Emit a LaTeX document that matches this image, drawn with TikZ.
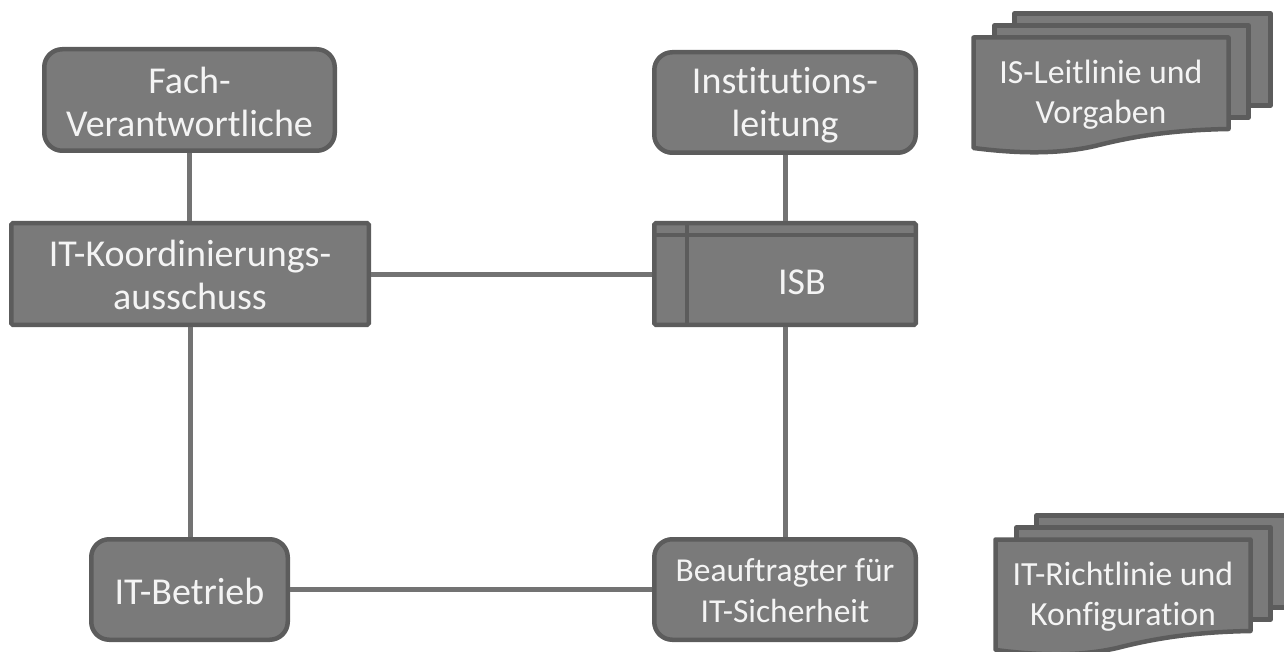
\documentclass[tikz,border=0pt]{standalone}
\usepackage{fontspec}
\setmainfont[RawFeature=-liga]{Carlito}
\definecolor{boxfill}{HTML}{7A7A7A}
\definecolor{boxline}{HTML}{5C5C5C}
\definecolor{linkline}{HTML}{737373}
\definecolor{labeltext}{HTML}{F4F4F4}
\tikzset{
  boxbase/.style={draw=boxline,fill=boxfill,line width=4.5pt,inner sep=0pt},
  roundbox/.style={boxbase,rounded corners=18pt},
  squarebox/.style={boxbase,rounded corners=1.5pt},
  boxlabel/.style={text=labeltext,align=center,inner sep=0pt,font=\fontsize{38}{43}\selectfont},
  link/.style={draw=linkline,line width=5pt},
  docsheet/.style={draw=boxline,fill=boxfill,line width=4.5pt,line join=round},
  doclabel/.style={text=labeltext,align=center,inner sep=0pt,font=\fontsize{33.8}{40}\selectfont},
  smalllabel/.style={text=labeltext,align=center,inner sep=0pt,font=\fontsize{33.5}{41}\selectfont}
}
\begin{document}
\begin{tikzpicture}[x=1pt,y=-1pt]
\useasboundingbox (0,0) rectangle (1284,652);
\node[roundbox,minimum width=290.5pt,minimum height=101.5pt] (fach) at (189.5,100) {};
\node[squarebox,minimum width=357.5pt,minimum height=101.5pt] (koord) at (190,274) {};
\node[roundbox,minimum width=261.5pt,minimum height=100.5pt] (inst) at (785,102.5) {};
\node[squarebox,minimum width=261.5pt,minimum height=101.5pt] (isb) at (785,274) {};
\node[roundbox,minimum width=196.5pt,minimum height=100.5pt] (betrieb) at (189.5,589.5) {};
\node[roundbox,minimum width=261.5pt,minimum height=100.5pt] (beauf) at (785,589.5) {};
\node[boxlabel] (fachlabel) at (189.5,101.5) {Fach-\\Verantwortliche};
\node[boxlabel] (koordlabel) at (190,275) {IT-Koordinierungs-\\ausschuss};
\node[boxlabel] (instlabel) at (785,105.5) {Institutions-\\leitung};
\node[boxlabel] (isblabel) at (802,282) {ISB};
\node[boxlabel] (betrieblabel) at (189.5,591) {IT-Betrieb};
\node[smalllabel] (beauflabel) at (785,590.5) {Beauftragter für\\IT-Sicherheit};
% ISB inner lines
\draw[boxline,line width=4.5pt] (isb.west |- 0,235) -- (isb.east |- 0,235);
\draw[boxline,line width=4.5pt] (687,223) -- (687,325);
% connectors
\draw[link] (fach.south) -- (fach.south |- koord.north);
\draw[link] (inst.south) -- (isb.north);
\draw[link] (koord.east) -- (isb.west);
\draw[link] (koord.south) -- (koord.south |- betrieb.north);
\draw[link] (isb.south) -- (beauf.north);
\draw[link] (betrieb.east) -- (beauf.west);
% document stack 1
\draw[docsheet] (1014.5,13.5) -- (1270.5,13.5) -- (1270.5,105.5) -- (1014.5,105.5) -- cycle;
\draw[docsheet] (994.5,25.5) -- (1248.5,25.5) -- (1248.5,117.5) -- (994.5,117.5) -- cycle;
\draw[docsheet] (973.5,37.5) -- (1228.5,37.5) -- (1228.5,129)
  .. controls (1170,130) and (1130,137) .. (1095,146)
  .. controls (1060,154) and (1020,154) .. (973.5,148) -- cycle;
\node[doclabel] (doc1) at (1101,95) {IS-Leitlinie und\\Vorgaben};
% document stack 2
\draw[docsheet] (1036.5,515.5) -- (1300,515.5) -- (1300,607.5) -- (1036.5,607.5) -- cycle;
\draw[docsheet] (1016.5,527.5) -- (1270.5,527.5) -- (1270.5,619.5) -- (1016.5,619.5) -- cycle;
\draw[docsheet] (995.5,539.5) -- (1250.5,539.5) -- (1250.5,631)
  .. controls (1192,632) and (1152,639) .. (1117,648)
  .. controls (1082,656) and (1042,656) .. (995.5,650) -- cycle;
\node[doclabel] (doc2) at (1123,597) {IT-Richtlinie und\\Konfiguration};
\end{tikzpicture}
\end{document}
